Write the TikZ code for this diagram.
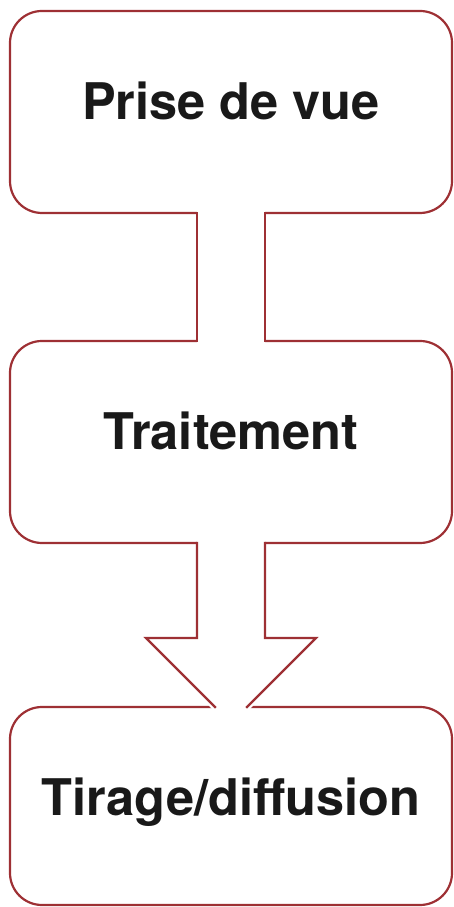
\documentclass[tikz,border=0pt]{standalone}
\usepackage{fontspec}
\setmainfont{TeX Gyre Heros}
\usetikzlibrary{calc,positioning}

\definecolor{boxred}{RGB}{158,48,52}

\tikzset{
	etape/.style={draw=boxred,line width=2.2pt,fill=white,rounded corners=32pt,
		minimum width=442pt,minimum height=202pt,inner sep=0pt,outer sep=0pt},
	titre/.style={anchor=base,inner sep=0pt,text=black!90,font=\fontsize{50.5}{60}\selectfont\bfseries},
	fleche/.style={draw=boxred,line width=2.2pt,line cap=rect},
}

\begin{document}
\begin{tikzpicture}[x=1pt,y=1pt]
				\useasboundingbox (0,0) rectangle (454,907);
				\node[etape] (prise) at (231,795) {};
				\node[etape,below=128pt of prise] (trait) {};
				\node[etape,below=164pt of trait,minimum height=198pt] (tirage) {};
				% tige entre les deux premiers blocs
				\fill[white] ($(prise.south)+(-34,2.5)$) rectangle ($(trait.north)+(34,-2.5)$);
				\draw[fleche] ($(prise.south)+(-34,0)$) -- ($(trait.north)+(-34,0)$);
				\draw[fleche] ($(prise.south)+(34,0)$) -- ($(trait.north)+(34,0)$);
				% fleche vers le dernier bloc
				\coordinate (g1) at ($(trait.south)+(-34,0)$);
				\coordinate (g2) at ($(trait.south)+(-34,-95)$);
				\coordinate (g3) at ($(trait.south)+(-85,-95)$);
				\coordinate (g4) at ($(tirage.north)+(-16,0)$);
				\coordinate (d1) at ($(trait.south)+(34,0)$);
				\coordinate (d2) at ($(trait.south)+(34,-95)$);
				\coordinate (d3) at ($(trait.south)+(85,-95)$);
				\coordinate (d4) at ($(tirage.north)+(16,0)$);
				\fill[white] ($(g1)+(0,2.5)$) -- (g2) -- (g3) -- ($(g4)+(-2.5,-2.5)$)
					-- ($(d4)+(2.5,-2.5)$) -- (d3) -- (d2) -- ($(d1)+(0,2.5)$) -- cycle;
				\draw[fleche] (g1) -- (g2) -- (g3) -- (g4);
				\draw[fleche] (d1) -- (d2) -- (d3) -- (d4);
				% textes
				\node[titre] (prisetxt) at ($(prise.north)+(0,-109)$) {Prise de vue};
				\node[titre] (traittxt) at ($(trait.north)+(0,-109)$) {Traitement};
				\node[titre] (tiragetxt) at ($(tirage.north)+(0,-109)$) {Tirage/diffusion};
\end{tikzpicture}
\end{document}
